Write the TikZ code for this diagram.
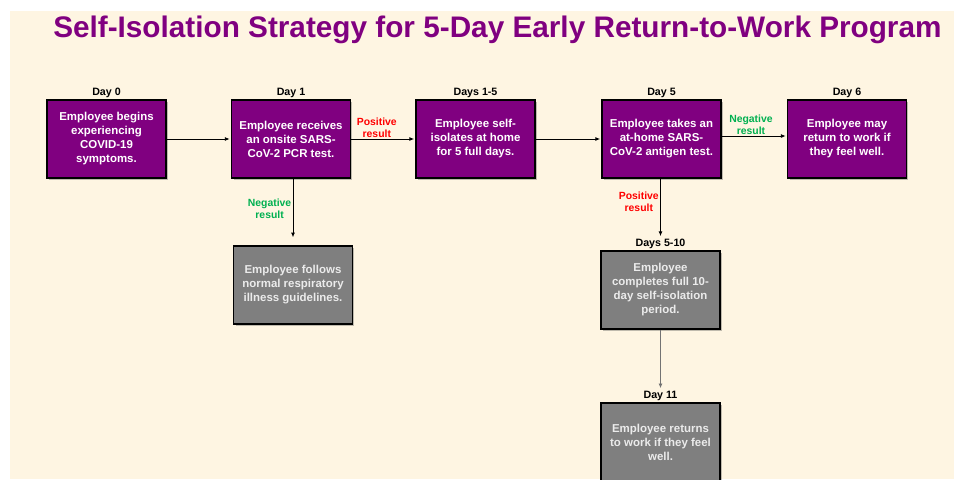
\documentclass[tikz,border=0pt]{standalone}
\usepackage{fontspec}
\setmainfont{Liberation Sans}
\usetikzlibrary{positioning,arrows.meta,shadows}
\definecolor{cream}{HTML}{FEF5E2}
\definecolor{plum}{HTML}{800080}
\definecolor{slate}{HTML}{7F7F7F}
\definecolor{okgreen}{HTML}{00B050}
\begin{document}
\begin{tikzpicture}[x=0.75pt,y=-0.75pt,
  stepbox/.style={draw=black, line width=1.1pt, minimum width=89pt, minimum height=58.5pt,
    inner sep=2pt, align=center, text=white, font=\bfseries\fontsize{8.6}{10.5}\selectfont,
    drop shadow={shadow xshift=1.5pt, shadow yshift=-1.5pt, opacity=0.35, fill=black!70}},
  purplebox/.style={stepbox, fill=plum},
  greybox/.style={stepbox, fill=slate, text=white!92!black},
  daylbl/.style={font=\bfseries\fontsize{8}{9}\selectfont, inner sep=1pt},
  arr/.style={-{Latex[length=3.5pt,width=3pt]}, line width=0.6pt},
  poslbl/.style={text=red, font=\bfseries\fontsize{7.8}{9}\selectfont, align=center, inner sep=1pt},
  neglbl/.style={text=okgreen, font=\bfseries\fontsize{7.8}{9}\selectfont, align=center, inner sep=1pt}]
\clip (0,0) rectangle (957,479);
\fill[white] (0,0) rectangle (957,479);
\fill[cream] (10,11) rectangle (954,479);
% title
\node[anchor=base west, text=plum, font=\bfseries\fontsize{22.3}{26}\selectfont, inner sep=0pt] (title) at (53,37)
  {Self-Isolation Strategy for 5-Day Early Return-to-Work Program};
% top row
\node[purplebox] (d0) at (106.5,139) {Employee begins\\experiencing\\COVID-19\\symptoms.};
\node[purplebox] (d1) at (291,139) {Employee receives\\an onsite SARS-\\CoV-2 PCR test.};
\node[purplebox] (d15) at (475.5,139) {Employee self-\\isolates at home\\for 5 full days.};
\node[purplebox] (d5) at (661.5,139) {Employee takes an\\at-home SARS-\\CoV-2 antigen test.};
\node[purplebox] (d6) at (847,139) {Employee may\\return to work if\\they feel well.};
% lower boxes
\node[greybox] (norm) at (293,285) {Employee follows\\normal respiratory\\illness guidelines.};
\node[greybox] (d510) at (660.5,290) {Employee\\completes full 10-\\day self-isolation\\period.};
\node[greybox] (d11) at (660.5,442) {Employee returns\\to work if they feel\\well.};
% day labels
\node[daylbl, above=0pt of d0] (l0) {Day 0};
\node[daylbl, above=0pt of d1] (l1) {Day 1};
\node[daylbl, above=0pt of d15] (l15) {Days 1-5};
\node[daylbl, above=0pt of d5] (l5) {Day 5};
\node[daylbl, above=0pt of d6] (l6) {Day 6};
\node[daylbl, above=0pt of d510] (l510) {Days 5-10};
\node[daylbl, above=0pt of d11] (l11) {Day 11};
% connectors
\draw[arr, shorten >=1pt] (d0) -- (d1);
\draw[arr, shorten >=1pt] (d1) -- node[poslbl, above, pos=0.4] {Positive\\result} (d15);
\draw[arr, shorten >=1pt] (d15) -- (d5);
\draw[arr, shorten >=1pt] ([yshift=2.25pt]d5.east) -- node[neglbl, above, pos=0.45] {Negative\\result} ([yshift=2.25pt]d6.west);
\draw[arr, shorten >=6pt] (d1.south -| norm) -- node[neglbl, left, pos=0.45] {Negative\\result} (norm);
\draw[arr, shorten >=1pt] (d5.south -| d510) -- node[poslbl, left, pos=0.4] {Positive\\result} (l510);
\draw[arr, draw=black!55, shorten >=1pt] (d510) -- (l11);
\end{tikzpicture}
\end{document}
